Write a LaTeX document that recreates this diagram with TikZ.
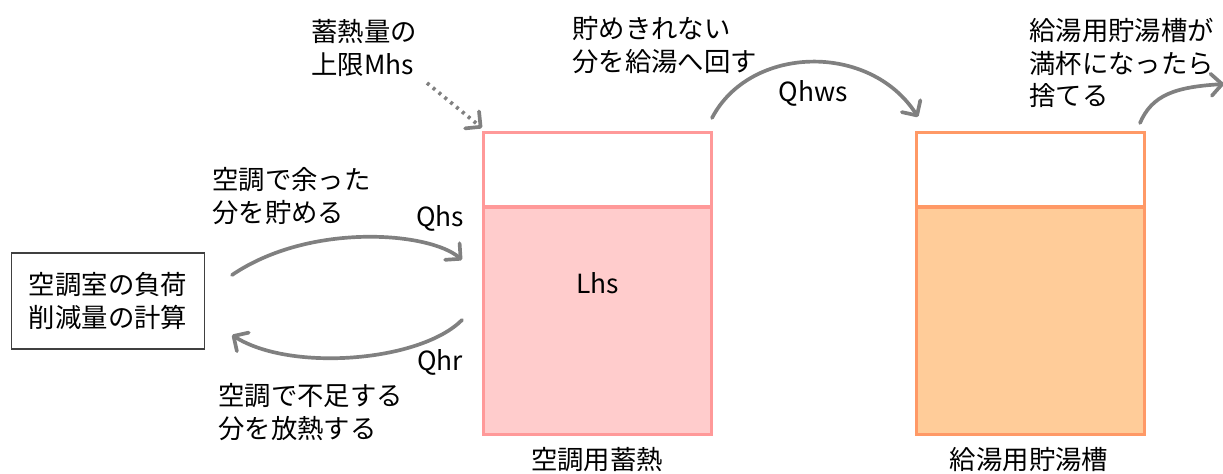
\documentclass[tikz,border=0pt]{standalone}
\usepackage{fontspec}
\setmainfont{Noto Sans CJK JP}
\usetikzlibrary{arrows.meta}
\definecolor{flowgray}{HTML}{808080}
\definecolor{boxline}{HTML}{404040}
\definecolor{acline}{HTML}{FF9999}
\definecolor{acfill}{HTML}{FFCCCC}
\definecolor{hwline}{HTML}{FF9966}
\definecolor{hwfill}{HTML}{FFCC99}

\begin{document}
\begin{tikzpicture}[
  x=0.02cm, y=-0.02cm,
  every node/.style={font=\fontsize{15pt}{18.6pt}\selectfont, inner sep=0pt},
  note/.style={anchor=west, align=left},
  flow/.style={draw=flowgray, line width=2.1pt, line cap=round, -{Straight Barb[length=2.2mm, width=4.4mm, round]}},
  tankline/.style={draw=#1, line width=2.2pt}
]
  \useasboundingbox (0,0) rectangle (1223,473);

  \node[draw=boxline, line width=1pt, minimum width=3.86cm, minimum height=1.92cm, align=center] (load) at (108,301) {空調室の負荷\\削減量の計算};

  % tanks
  \draw[tankline=acline, fill=acfill] (483.5,207) rectangle (711.5,434.5);
  \draw[tankline=acline] (483.5,132.5) rectangle (711.5,434.5);
  \draw[tankline=hwline, fill=hwfill] (916.5,207) rectangle (1144.5,434.5);
  \draw[tankline=hwline] (916.5,132.5) rectangle (1144.5,434.5);

  \node (lhs) at (598,283) {Lhs};
  \node (aclabel) at (597,460) {空調用蓄熱};
  \node (hwlabel) at (1029,460) {給湯用貯湯槽};

  \node (qhs) at (440,218) {Qhs};
  \node (qhr) at (440,362) {Qhr};
  \node (qhws) at (813,93) {Qhws};

  \node[note] (capnote) at (311,48) {蓄熱量の\\上限Mhs};
  \node[note] (overnote) at (572,45) {貯めきれない\\分を給湯へ回す};
  \node[note] (dumpnote) at (1029,63) {給湯用貯湯槽が\\満杯になったら\\捨てる};
  \node[note] (surpnote) at (212,196) {空調で余った\\分を貯める};
  \node[note] (shortnote) at (218,412) {空調で不足する\\分を放熱する};

  % arrow ends
  \coordinate (qhs-from) at (232,275);
  \coordinate (qhs-to) at (462,260);
  \coordinate (qhr-from) at (462,320);
  \coordinate (qhr-to) at (232,335);
  \coordinate (qhws-from) at (712,118);
  \coordinate (qhws-to) at (918,117);
  \coordinate (dump-from) at (1140,123);
  \coordinate (dump-to) at (1224,84);
  \coordinate (cap-from) at (427,83);
  \coordinate (cap-to) at (482,128);

  \draw[flow] (qhs-from) .. controls (310,222) and (430,232) .. (qhs-to);
  \draw[flow] (qhr-from) .. controls (420,362) and (290,372) .. (qhr-to);
  \draw[flow] (qhws-from) .. controls (750,45) and (870,42) .. (qhws-to);
  \draw[flow] (dump-from) .. controls (1152,95) and (1175,87) .. (dump-to);
  \draw[flow, line cap=butt, dash pattern=on 1.7pt off 2.6pt] (cap-from) -- (cap-to);
\end{tikzpicture}
\end{document}
